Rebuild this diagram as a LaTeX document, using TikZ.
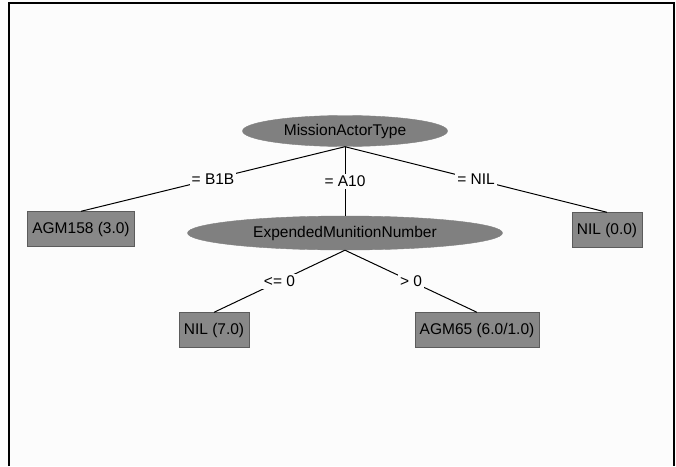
\documentclass[tikz,border=0pt]{standalone}
\usepackage{fontspec}
\setmainfont{Liberation Sans}
\usepackage{xcolor}
\usepackage{tikz}
\usetikzlibrary{shapes.geometric}
\definecolor{splitgray}{RGB}{128,128,128}
\definecolor{leafgray}{RGB}{136,136,136}
\definecolor{rimgray}{RGB}{92,92,92}
\definecolor{paper}{RGB}{252,252,252}

\begin{document}
\begin{tikzpicture}[x=1pt, y=-1pt,
    split/.style={ellipse, draw=splitgray, fill=splitgray, inner sep=0pt, font=\fontsize{15.5}{18}\selectfont},
    leaf/.style={draw=rimgray, fill=leafgray, minimum height=35pt, inner xsep=5pt, font=\fontsize{15.5}{18}\selectfont},
    branch/.style={fill=paper, inner sep=2pt, font=\fontsize{15.5}{18}\selectfont}
]
    \fill[paper] (0,0) rectangle (676,466);
    \useasboundingbox (0,0) rectangle (676,466);
    \draw[line width=1.5pt] (9,466) -- (9,3) -- (674,3) -- (674,466);

    \node[split, minimum width=205pt, minimum height=31pt] (actor) at (345,131) {MissionActorType};
    \node[leaf] (agm158) at (81,229) {AGM158 (3.0)};
    \node[split, minimum width=315pt, minimum height=34pt] (munition) at (345,233) {ExpendedMunitionNumber};
    \node[leaf] (nilzero) at (607,230) {NIL (0.0)};
    \node[leaf] (nilseven) at (214,330) {NIL (7.0)};
    \node[leaf] (agm65) at (477,330) {AGM65 (6.0/1.0)};

    \draw[line width=1pt] (actor.south) -- node[branch] {= B1B} (agm158.north);
    \draw[line width=1pt] (actor.south) -- node[branch] {= A10} (munition.north);
    \draw[line width=1pt] (actor.south) -- node[branch] {= NIL} (nilzero.north);
    \draw[line width=1pt] (munition.south) -- node[branch] {<= 0} (nilseven.north);
    \draw[line width=1pt] (munition.south) -- node[branch] {> 0} (agm65.north);
\end{tikzpicture}
\end{document}
